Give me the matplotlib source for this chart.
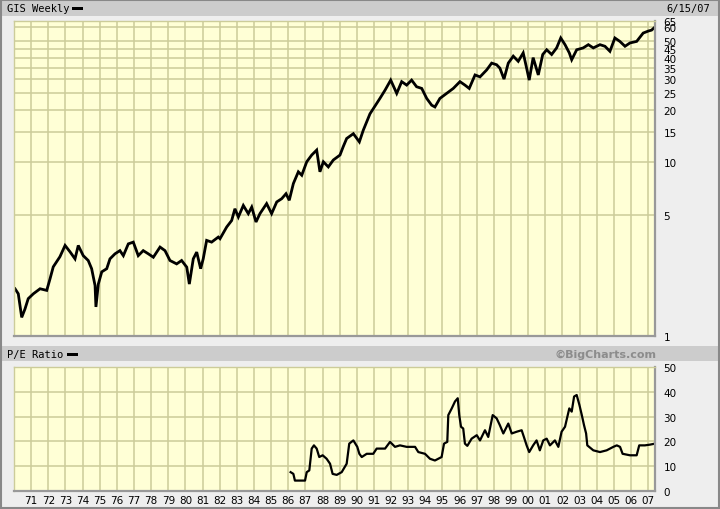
import matplotlib.pyplot as plt
import numpy as np
from matplotlib.patches import Rectangle
from matplotlib.ticker import FixedLocator, FixedFormatter, NullLocator

# weekly close of GIS (decimal year, price $)
PRICE_YEARS = [
    1970.06, 1970.25, 1970.45, 1970.64, 1970.83, 1971.13, 1971.52, 1971.91,
    1972.10, 1972.29, 1972.68, 1972.98, 1973.27, 1973.56, 1973.75, 1974.04,
    1974.33, 1974.53, 1974.73, 1974.78, 1974.92, 1975.12, 1975.41, 1975.60,
    1975.89, 1976.18, 1976.38, 1976.67, 1976.96, 1977.25, 1977.54, 1977.84,
    1978.13, 1978.52, 1978.81, 1979.10, 1979.49, 1979.78, 1980.08, 1980.23,
    1980.46, 1980.66, 1980.89, 1981.04, 1981.24, 1981.53, 1981.92, 1982.02,
    1982.41, 1982.70, 1982.89, 1983.09, 1983.38, 1983.67, 1983.87, 1984.12,
    1984.35, 1984.74, 1985.03, 1985.33, 1985.62, 1985.87, 1986.06, 1986.30,
    1986.59, 1986.79, 1987.08, 1987.37, 1987.66, 1987.85, 1988.05, 1988.34,
    1988.63, 1989.02, 1989.21, 1989.41, 1989.80, 1990.15, 1990.38, 1990.77,
    1991.35, 1991.65, 1991.98, 1992.33, 1992.62, 1992.91, 1993.20, 1993.49,
    1993.79, 1994.08, 1994.37, 1994.56, 1994.85, 1995.24, 1995.63, 1996.02,
    1996.31, 1996.56, 1996.90, 1997.19, 1997.58, 1997.87, 1998.16, 1998.35,
    1998.59, 1998.84, 1999.13, 1999.42, 1999.71, 1999.91, 2000.06, 2000.29,
    2000.59, 2000.85, 2001.08, 2001.37, 2001.66, 2001.90, 2002.15, 2002.40,
    2002.54, 2002.83, 2003.21, 2003.51, 2003.80, 2004.19, 2004.48, 2004.77,
    2005.06, 2005.35, 2005.65, 2005.94, 2006.33, 2006.71, 2007.01, 2007.20,
    2007.40,
]
PRICES = [
    1.87, 1.75, 1.28, 1.43, 1.64, 1.75, 1.87, 1.83,
    2.13, 2.50, 2.86, 3.32, 3.05, 2.78, 3.32, 2.90,
    2.72, 2.44, 1.95, 1.47, 1.99, 2.34, 2.44, 2.78,
    2.97, 3.10, 2.90, 3.39, 3.47, 2.90, 3.10, 2.97,
    2.84, 3.25, 3.10, 2.72, 2.60, 2.72, 2.49, 1.99,
    2.78, 3.04, 2.44, 2.78, 3.55, 3.47, 3.71, 3.63,
    4.24, 4.62, 5.40, 4.84, 5.64, 5.06, 5.52, 4.53,
    5.06, 5.78, 5.06, 5.91, 6.17, 6.59, 6.04, 7.54,
    8.81, 8.42, 10.06, 11.0, 11.75, 8.81, 10.06, 9.4,
    10.3, 11.0, 12.3, 13.7, 14.6, 13.1, 15.3, 19.0,
    23.3, 26.0, 29.7, 24.9, 29.1, 27.8, 29.7, 27.2,
    26.6, 23.3, 21.3, 20.8, 23.3, 24.9, 26.6, 29.1,
    27.8, 26.6, 31.8, 31.0, 34.0, 37.2, 36.4, 34.8,
    30.1, 37.2, 40.8, 38.1, 42.6, 34.8, 29.7, 40.0,
    31.8, 41.7, 44.4, 41.7, 45.5, 51.9, 47.5, 42.6,
    38.9, 44.4, 45.5, 47.5, 45.5, 47.5, 46.5, 43.5,
    51.9, 49.6, 46.5, 48.6, 49.6, 55.4, 56.9, 57.6,
    60.0,
]

# P/E ratio, starts in 1986
PE_YEARS = [
    1986.14, 1986.30, 1986.39, 1986.98, 1987.08, 1987.23, 1987.37, 1987.50,
    1987.66, 1987.81, 1988.01, 1988.24, 1988.44, 1988.59, 1988.83, 1989.12,
    1989.41, 1989.56, 1989.80, 1990.03, 1990.15, 1990.29, 1990.58, 1990.96,
    1991.16, 1991.65, 1991.94, 1992.23, 1992.52, 1992.91, 1993.40, 1993.59,
    1993.98, 1994.27, 1994.56, 1994.95, 1995.09, 1995.28, 1995.34, 1995.54,
    1995.73, 1995.89, 1995.98, 1996.08, 1996.21, 1996.31, 1996.45, 1996.70,
    1997.00, 1997.19, 1997.48, 1997.67, 1997.93, 1998.16, 1998.35, 1998.55,
    1998.84, 1999.04, 1999.33, 1999.62, 1999.75, 1999.91, 2000.06, 2000.29,
    2000.49, 2000.68, 2000.88, 2001.08, 2001.27, 2001.56, 2001.76, 2001.95,
    2002.15, 2002.40, 2002.54, 2002.68, 2002.83, 2002.99, 2003.13, 2003.26,
    2003.38, 2003.45, 2003.80, 2004.19, 2004.58, 2004.97, 2005.17, 2005.36,
    2005.51, 2005.94, 2006.33, 2006.48, 2006.81, 2007.11, 2007.40,
]
PE_VALUES = [
    7.6, 6.9, 4.2, 4.2, 7.6, 8.3, 17.1, 18.4,
    17.1, 13.7, 14.4, 13.0, 11.0, 6.9, 6.5, 7.6,
    11.0, 19.1, 20.4, 17.8, 15.0, 13.7, 15.0, 15.0,
    17.1, 17.1, 19.8, 17.8, 18.4, 17.8, 17.8, 15.7,
    15.0, 13.0, 12.3, 13.7, 19.1, 19.8, 30.6, 33.3,
    36.1, 37.4, 30.6, 25.9, 25.2, 19.1, 18.2, 21.1,
    22.5, 20.4, 24.5, 21.8, 30.6, 29.3, 26.5, 23.2,
    27.2, 23.2, 23.9, 24.5, 21.8, 18.4, 15.7, 18.4,
    20.4, 16.4, 20.4, 21.1, 18.4, 20.4, 17.8, 23.9,
    25.9, 33.3, 32.0, 38.1, 38.7, 34.7, 30.6, 26.5,
    23.2, 18.4, 16.4, 15.7, 16.4, 17.8, 18.4, 17.8,
    15.0, 14.4, 14.4, 18.4, 18.4, 18.7, 19.1,
]

PRICE_TICKS = [1, 5, 10, 15, 20, 25, 30, 35, 40, 45, 50, 60, 65]
PE_TICKS = [0, 10, 20, 30, 40, 50]
YEARS = list(range(1971, 2008))
YEAR_LABELS = [f"{y % 100:02d}" for y in YEARS]

BG = "#EEEEEE"
BAR = "#CCCCCC"
PANEL = "#FFFFD6"
GRID = "#CCCC99"
FONT = "DejaVu Sans"


def style_axes(ax):
    ax.set_facecolor(PANEL)
    ax.set_xlim(1970.0, 2007.40)
    ax.xaxis.set_major_locator(FixedLocator(YEARS))
    ax.grid(True, which="major", color=GRID, linewidth=1.1)
    ax.set_axisbelow(True)
    ax.yaxis.tick_right()
    ax.tick_params(axis="both", length=0, labelsize=7.5, colors="black")
    ax.tick_params(axis="y", pad=6)
    for side in ("top", "left"):
        ax.spines[side].set_color(GRID)
        ax.spines[side].set_linewidth(1.0)
    for side in ("bottom", "right"):
        ax.spines[side].set_color("#999999")
        ax.spines[side].set_linewidth(1.6)


def main():
    plt.rcParams["font.family"] = FONT
    fig = plt.figure(figsize=(7.2, 5.1), dpi=100, facecolor=BG)

    # header bars
    fig.patches.append(Rectangle((0.003, 1 - 17 / 510), 0.994, 16 / 510,
                                 transform=fig.transFigure, facecolor=BAR,
                                 edgecolor="none", zorder=0))
    fig.patches.append(Rectangle((0.003, 1 - 362 / 510), 0.994, 15 / 510,
                                 transform=fig.transFigure, facecolor=BAR,
                                 edgecolor="none", zorder=0))
    fig.patches.append(Rectangle((0.001, 0.001), 0.998, 0.997,
                                 transform=fig.transFigure, facecolor="none",
                                 edgecolor="#888888", linewidth=1.5, zorder=5))

    ax1 = fig.add_axes([14 / 720, 1 - 337 / 510, 641 / 720, 315 / 510])
    ax2 = fig.add_axes([14 / 720, 1 - 492 / 510, 641 / 720, 124 / 510])

    # price panel
    style_axes(ax1)
    ax1.set_yscale("log")
    ax1.set_ylim(1, 65)
    ax1.yaxis.set_major_locator(FixedLocator(PRICE_TICKS))
    ax1.yaxis.set_major_formatter(FixedFormatter([str(t) for t in PRICE_TICKS]))
    ax1.yaxis.set_minor_locator(NullLocator())
    ax1.tick_params(axis="x", labelbottom=False)
    ax1.plot(PRICE_YEARS, PRICES, color="black", linewidth=2.0,
             solid_joinstyle="miter")

    # P/E panel
    style_axes(ax2)
    ax2.set_ylim(0, 50)
    ax2.yaxis.set_major_locator(FixedLocator(PE_TICKS))
    ax2.set_xticklabels(YEAR_LABELS)
    ax2.tick_params(axis="x", pad=3)
    ax2.plot(PE_YEARS, PE_VALUES, color="black", linewidth=1.6)

    # header texts
    fig.text(7 / 720, 1 - 9 / 510, "GIS Weekly", fontsize=7.5,
             family="DejaVu Sans Mono", va="center", ha="left")
    fig.patches.append(Rectangle((72 / 720, 1 - 11 / 510), 11 / 720, 3 / 510,
                                 transform=fig.transFigure, facecolor="black",
                                 edgecolor="none"))
    fig.text(710 / 720, 1 - 9 / 510, "6/15/07", fontsize=7.5,
             family="DejaVu Sans Mono", va="center", ha="right")

    fig.text(7 / 720, 1 - 355 / 510, "P/E Ratio", fontsize=7.5,
             family="DejaVu Sans Mono", va="center", ha="left")
    fig.patches.append(Rectangle((67 / 720, 1 - 357 / 510), 11 / 720, 3 / 510,
                                 transform=fig.transFigure, facecolor="black",
                                 edgecolor="none"))
    fig.text(656 / 720, 1 - 355 / 510, "\u00a9BigCharts.com", fontsize=8,
             fontweight="bold", color="#8C8C8C", va="center", ha="right")

    fig.savefig("out.png", dpi=100, facecolor=BG)
    plt.close(fig)


if __name__ == "__main__":
    main()
